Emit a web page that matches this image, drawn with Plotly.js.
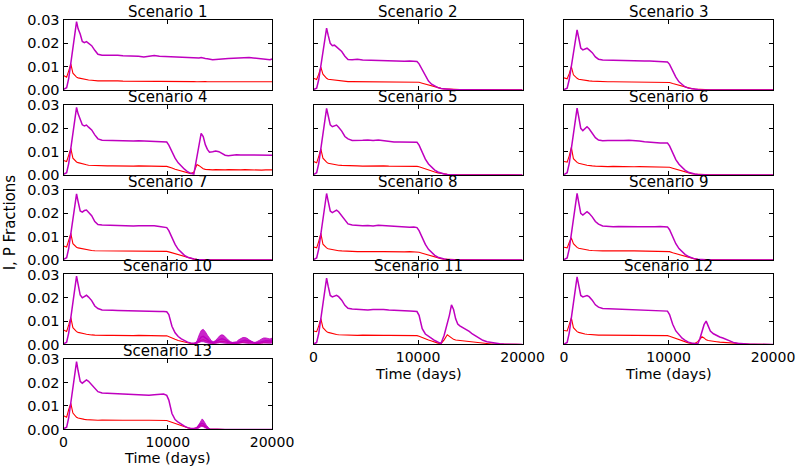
<!DOCTYPE html>
<html><head><meta charset="utf-8">
<script src="https://cdn.plot.ly/plotly-3.0.1.min.js"></script>
<style>html,body{margin:0;padding:0;background:#fff}#chart{width:798px;height:468px}</style>
</head><body><div id="chart"></div><script>
// shared time grid (days)
const days = [0,300,500,700,900,1100,1250,1400,1600,1800,
  2000,2200,2400,2700,3000,3300,3700,4200,4700,5200,
  5700,6200,6700,7200,7700,8200,8700,9200,9600,9900,
  10100,10400,10700,11000,11300,11600,11900,12200,12500,12800,
  13000,13200,13400,13600,13800,14000,14300,14600,14900,15200,
  15500,15800,16200,16600,17000,17400,17800,18200,18600,19000,
  19400,19800,20000];

// P fraction (magenta) and I fraction (red) per scenario
const p1 = [0.0003,0.0010,0.0050,0.0115,0.0180,0.0255,0.0293,0.0262,0.0240,0.0208,
  0.0203,0.0207,0.0201,0.0190,0.0170,0.0153,0.0149,0.0150,0.0148,0.0149,
  0.0147,0.0146,0.0148,0.0145,0.0141,0.0146,0.0148,0.0145,0.0144,0.0143,
  0.0142,0.0141,0.0140,0.0141,0.0139,0.0140,0.0139,0.0138,0.0137,0.0136,
  0.0137,0.0139,0.0136,0.0135,0.0134,0.0132,0.0130,0.0131,0.0133,0.0134,
  0.0134,0.0135,0.0136,0.0135,0.0138,0.0140,0.0139,0.0137,0.0136,0.0135,
  0.0133,0.0130,0.0133];
const i1 = [0.0062,0.0055,0.0082,0.0112,0.0072,0.0060,0.0055,0.0052,0.0050,0.0047,
  0.0048,0.0044,0.0043,0.0042,0.0040,0.0039,0.0039,0.0040,0.0038,0.0039,
  0.0038,0.0038,0.0039,0.0038,0.0037,0.0038,0.0038,0.0037,0.0038,0.0037,
  0.0037,0.0037,0.0036,0.0037,0.0036,0.0036,0.0037,0.0036,0.0036,0.0035,
  0.0036,0.0036,0.0035,0.0036,0.0035,0.0035,0.0035,0.0036,0.0035,0.0035,
  0.0036,0.0035,0.0035,0.0036,0.0035,0.0036,0.0035,0.0035,0.0035,0.0034,
  0.0035,0.0034,0.0035];
const p2 = [0.0002,0.0008,0.0045,0.0105,0.0165,0.0235,0.0265,0.0235,0.0200,0.0190,
  0.0192,0.0185,0.0176,0.0165,0.0145,0.0131,0.0130,0.0132,0.0129,0.0128,
  0.0127,0.0128,0.0126,0.0125,0.0125,0.0124,0.0123,0.0124,0.0122,0.0122,
  0.0112,0.0085,0.0060,0.0038,0.0025,0.0016,0.0010,0.0006,0.0004,0.0003,
  0.0002,0.0002,0.0001,0.0001,0.0001,0.0001,0.0001,0,0,0,
  0,0,0,0,0,0,0,0,0,0,
  0,0,0];
const i2 = [0.0050,0.0045,0.0068,0.0098,0.0068,0.0055,0.0050,0.0046,0.0045,0.0043,
  0.0042,0.0040,0.0039,0.0038,0.0037,0.0036,0.0036,0.0036,0.0035,0.0036,
  0.0035,0.0035,0.0036,0.0035,0.0035,0.0034,0.0035,0.0035,0.0034,0.0034,
  0.0033,0.0029,0.0025,0.0021,0.0017,0.0013,0.0010,0.0007,0.0005,0.0004,
  0.0003,0.0003,0.0003,0.0002,0.0003,0.0002,0.0002,0.0002,0.0001,0.0002,
  0.0001,0.0002,0.0001,0.0001,0.0002,0.0001,0.0001,0.0001,0.0001,0.0001,
  0.0001,0.0001,0.0001];
const p3 = [0.0002,0.0008,0.0045,0.0105,0.0165,0.0230,0.0258,0.0225,0.0180,0.0172,
  0.0176,0.0179,0.0172,0.0160,0.0142,0.0132,0.0129,0.0128,0.0127,0.0127,
  0.0126,0.0126,0.0125,0.0125,0.0124,0.0124,0.0123,0.0122,0.0121,0.0120,
  0.0110,0.0080,0.0055,0.0035,0.0022,0.0013,0.0008,0.0005,0.0003,0.0002,
  0.0001,0.0001,0.0001,0,0,0,0,0,0,0,
  0,0,0,0,0,0,0,0,0,0,
  0,0,0];
const i3 = [0.0052,0.0048,0.0070,0.0100,0.0065,0.0055,0.0050,0.0046,0.0044,0.0042,
  0.0043,0.0040,0.0039,0.0038,0.0037,0.0036,0.0036,0.0035,0.0035,0.0035,
  0.0035,0.0034,0.0035,0.0034,0.0034,0.0034,0.0034,0.0034,0.0033,0.0034,
  0.0032,0.0028,0.0024,0.0020,0.0016,0.0012,0.0009,0.0006,0.0004,0.0003,
  0.0002,0.0002,0.0002,0.0001,0.0002,0.0001,0.0001,0.0001,0.0001,0.0001,
  0.0001,0.0001,0.0001,0.0001,0.0001,0.0001,0.0001,0.0001,0.0001,0.0001,
  0.0001,0.0001,0.0001];
const p4 = [0.0003,0.0010,0.0050,0.0115,0.0180,0.0255,0.0290,0.0262,0.0240,0.0215,
  0.0210,0.0214,0.0205,0.0193,0.0172,0.0155,0.0149,0.0148,0.0149,0.0147,
  0.0148,0.0147,0.0146,0.0147,0.0146,0.0145,0.0145,0.0144,0.0143,0.0141,
  0.0128,0.0098,0.0072,0.0052,0.0037,0.0025,0.0014,0.0007,0.0004,0.0075,
  0.0125,0.0178,0.0165,0.0130,0.0110,0.0098,0.0100,0.0103,0.0100,0.0094,
  0.0085,0.0083,0.0086,0.0087,0.0086,0.0086,0.0087,0.0086,0.0085,0.0086,
  0.0086,0.0085,0.0085];
const i4 = [0.0062,0.0058,0.0085,0.0114,0.0072,0.0060,0.0056,0.0053,0.0050,0.0048,
  0.0046,0.0044,0.0042,0.0041,0.0040,0.0039,0.0040,0.0039,0.0039,0.0038,
  0.0039,0.0038,0.0038,0.0039,0.0038,0.0038,0.0037,0.0038,0.0037,0.0037,
  0.0035,0.0030,0.0025,0.0021,0.0017,0.0013,0.0009,0.0006,0.0012,0.0045,
  0.0040,0.0032,0.0027,0.0024,0.0023,0.0022,0.0022,0.0023,0.0022,0.0022,
  0.0022,0.0023,0.0022,0.0022,0.0022,0.0023,0.0022,0.0022,0.0022,0.0021,
  0.0022,0.0022,0.0022];
const p5 = [0.0002,0.0010,0.0050,0.0115,0.0180,0.0250,0.0286,0.0255,0.0215,0.0207,
  0.0212,0.0214,0.0205,0.0188,0.0165,0.0155,0.0148,0.0147,0.0149,0.0150,
  0.0148,0.0150,0.0146,0.0142,0.0141,0.0141,0.0140,0.0141,0.0140,0.0140,
  0.0128,0.0095,0.0068,0.0047,0.0032,0.0021,0.0013,0.0008,0.0004,0.0002,
  0.0001,0.0001,0.0001,0.0001,0,0,0,0,0,0,
  0,0,0,0,0,0,0,0,0,0,
  0,0,0];
const i5 = [0.0058,0.0052,0.0080,0.0112,0.0072,0.0060,0.0055,0.0050,0.0048,0.0046,
  0.0045,0.0043,0.0042,0.0041,0.0040,0.0039,0.0039,0.0039,0.0038,0.0039,
  0.0039,0.0038,0.0039,0.0038,0.0038,0.0039,0.0038,0.0038,0.0038,0.0037,
  0.0035,0.0030,0.0026,0.0021,0.0017,0.0013,0.0009,0.0006,0.0004,0.0003,
  0.0002,0.0002,0.0001,0.0002,0.0001,0.0001,0.0001,0.0001,0.0001,0.0001,
  0.0001,0.0001,0.0001,0,0.0001,0,0.0001,0,0,0.0001,
  0,0,0];
const p6 = [0.0002,0.0010,0.0050,0.0115,0.0180,0.0250,0.0287,0.0250,0.0200,0.0190,
  0.0200,0.0207,0.0198,0.0180,0.0160,0.0150,0.0147,0.0148,0.0147,0.0147,
  0.0148,0.0149,0.0149,0.0146,0.0143,0.0140,0.0138,0.0137,0.0137,0.0137,
  0.0125,0.0093,0.0066,0.0046,0.0031,0.0020,0.0012,0.0007,0.0004,0.0002,
  0.0001,0.0001,0.0001,0,0,0,0,0,0,0,
  0,0,0,0,0,0,0,0,0,0,
  0,0,0];
const i6 = [0.0058,0.0055,0.0082,0.0118,0.0070,0.0060,0.0054,0.0050,0.0047,0.0045,
  0.0044,0.0042,0.0040,0.0039,0.0038,0.0037,0.0037,0.0036,0.0037,0.0036,
  0.0036,0.0036,0.0035,0.0036,0.0036,0.0035,0.0035,0.0036,0.0035,0.0035,
  0.0033,0.0029,0.0025,0.0020,0.0016,0.0012,0.0009,0.0006,0.0004,0.0003,
  0.0002,0.0002,0.0001,0.0002,0.0001,0.0001,0.0001,0.0001,0.0001,0.0001,
  0.0001,0.0001,0.0001,0,0.0001,0,0.0001,0,0,0.0001,
  0,0,0];
const p7 = [0.0003,0.0010,0.0050,0.0112,0.0175,0.0245,0.0283,0.0250,0.0210,0.0205,
  0.0212,0.0214,0.0206,0.0190,0.0165,0.0152,0.0150,0.0149,0.0150,0.0148,
  0.0149,0.0147,0.0146,0.0147,0.0148,0.0146,0.0147,0.0144,0.0140,0.0139,
  0.0126,0.0094,0.0067,0.0046,0.0031,0.0020,0.0012,0.0007,0.0004,0.0002,
  0.0001,0.0001,0.0001,0.0001,0,0,0,0,0,0,
  0,0,0,0,0,0,0,0,0,0,
  0,0,0];
const i7 = [0.0060,0.0056,0.0084,0.0114,0.0070,0.0060,0.0055,0.0052,0.0050,0.0047,
  0.0046,0.0044,0.0042,0.0041,0.0040,0.0040,0.0039,0.0039,0.0040,0.0039,
  0.0039,0.0039,0.0038,0.0039,0.0038,0.0038,0.0039,0.0038,0.0038,0.0037,
  0.0035,0.0031,0.0026,0.0021,0.0017,0.0013,0.0009,0.0006,0.0004,0.0003,
  0.0002,0.0002,0.0001,0.0002,0.0001,0.0001,0.0001,0.0001,0.0001,0.0001,
  0.0001,0.0001,0.0001,0,0.0001,0,0.0001,0,0,0.0001,
  0,0,0];
const p8 = [0.0002,0.0009,0.0048,0.0112,0.0178,0.0248,0.0285,0.0252,0.0210,0.0203,
  0.0210,0.0214,0.0207,0.0190,0.0168,0.0155,0.0150,0.0147,0.0147,0.0148,
  0.0146,0.0149,0.0147,0.0145,0.0144,0.0143,0.0141,0.0140,0.0141,0.0139,
  0.0126,0.0094,0.0067,0.0046,0.0031,0.0020,0.0012,0.0007,0.0004,0.0002,
  0.0001,0.0001,0.0001,0,0,0,0,0,0,0,
  0,0,0,0,0,0,0,0,0,0,
  0,0,0];
const i8 = [0.0056,0.0052,0.0080,0.0114,0.0068,0.0058,0.0052,0.0048,0.0046,0.0044,
  0.0043,0.0041,0.0040,0.0039,0.0038,0.0037,0.0037,0.0036,0.0036,0.0037,
  0.0036,0.0036,0.0036,0.0035,0.0036,0.0036,0.0035,0.0036,0.0035,0.0035,
  0.0033,0.0029,0.0025,0.0020,0.0016,0.0012,0.0009,0.0006,0.0004,0.0003,
  0.0002,0.0002,0.0001,0.0002,0.0001,0.0001,0.0001,0.0001,0.0001,0.0001,
  0.0001,0.0001,0.0001,0,0.0001,0,0.0001,0,0,0.0001,
  0,0,0];
const p9 = [0.0002,0.0009,0.0048,0.0112,0.0178,0.0248,0.0286,0.0248,0.0200,0.0193,
  0.0202,0.0207,0.0200,0.0185,0.0165,0.0154,0.0146,0.0144,0.0143,0.0144,
  0.0143,0.0143,0.0142,0.0143,0.0143,0.0142,0.0143,0.0144,0.0143,0.0142,
  0.0130,0.0097,0.0070,0.0049,0.0034,0.0023,0.0015,0.0009,0.0005,0.0003,
  0.0002,0.0001,0.0001,0.0001,0.0001,0,0,0,0,0,
  0,0,0,0,0,0,0,0,0,0,
  0,0,0];
const i9 = [0.0055,0.0052,0.0075,0.0095,0.0070,0.0060,0.0054,0.0050,0.0048,0.0046,
  0.0045,0.0043,0.0042,0.0041,0.0040,0.0040,0.0039,0.0040,0.0039,0.0039,
  0.0040,0.0039,0.0039,0.0039,0.0038,0.0039,0.0038,0.0038,0.0038,0.0038,
  0.0036,0.0031,0.0027,0.0022,0.0018,0.0014,0.0010,0.0007,0.0005,0.0003,
  0.0002,0.0002,0.0001,0.0002,0.0001,0.0001,0.0001,0.0001,0.0001,0.0001,
  0.0001,0.0001,0.0001,0,0.0001,0,0.0001,0,0,0.0001,
  0,0,0];
const p10 = [0.0003,0.0010,0.0050,0.0115,0.0180,0.0255,0.0293,0.0258,0.0212,0.0200,
  0.0207,0.0211,0.0203,0.0188,0.0165,0.0154,0.0148,0.0146,0.0147,0.0146,
  0.0145,0.0146,0.0145,0.0144,0.0143,0.0143,0.0142,0.0141,0.0141,0.0140,
  0.0128,0.0078,0.0050,0.0034,0.0024,0.0016,0.0010,0.0006,0.0005,0.0008,
  0.0022,0.0032,0.0035,0.0030,0.0022,0.0014,0.0009,0.0012,0.0020,0.0024,
  0.0020,0.0012,0.0007,0.0008,0.0014,0.0018,0.0015,0.0009,0.0007,0.0012,
  0.0016,0.0015,0.0016];
const i10 = [0.0062,0.0056,0.0084,0.0115,0.0072,0.0060,0.0055,0.0052,0.0049,0.0047,
  0.0046,0.0044,0.0042,0.0041,0.0040,0.0039,0.0040,0.0039,0.0039,0.0038,
  0.0039,0.0038,0.0038,0.0039,0.0038,0.0038,0.0037,0.0038,0.0037,0.0037,
  0.0034,0.0028,0.0022,0.0017,0.0013,0.0009,0.0006,0.0004,0.0004,0.0006,
  0.0012,0.0018,0.0020,0.0017,0.0012,0.0008,0.0006,0.0008,0.0012,0.0014,
  0.0012,0.0008,0.0005,0.0006,0.0009,0.0011,0.0010,0.0007,0.0005,0.0008,
  0.0010,0.0010,0.0011];
const p11 = [0.0002,0.0009,0.0048,0.0112,0.0178,0.0248,0.0284,0.0250,0.0210,0.0204,
  0.0208,0.0211,0.0205,0.0190,0.0168,0.0155,0.0152,0.0150,0.0149,0.0148,
  0.0150,0.0151,0.0150,0.0148,0.0146,0.0145,0.0144,0.0143,0.0142,0.0141,
  0.0125,0.0068,0.0045,0.0034,0.0026,0.0017,0.0009,0.0004,0.0040,0.0090,
  0.0125,0.0170,0.0150,0.0110,0.0088,0.0080,0.0072,0.0065,0.0056,0.0045,
  0.0036,0.0027,0.0018,0.0012,0.0008,0.0005,0.0003,0.0002,0.0001,0.0001,
  0.0001,0,0];
const i11 = [0.0058,0.0055,0.0080,0.0111,0.0072,0.0060,0.0055,0.0052,0.0049,0.0047,
  0.0045,0.0043,0.0042,0.0041,0.0040,0.0040,0.0040,0.0039,0.0040,0.0039,
  0.0040,0.0039,0.0039,0.0039,0.0039,0.0038,0.0039,0.0038,0.0038,0.0038,
  0.0035,0.0029,0.0024,0.0019,0.0015,0.0010,0.0006,0.0004,0.0020,0.0042,
  0.0036,0.0027,0.0022,0.0019,0.0018,0.0016,0.0015,0.0013,0.0011,0.0009,
  0.0007,0.0005,0.0004,0.0003,0.0002,0.0002,0.0001,0.0001,0.0001,0.0001,
  0.0001,0.0001,0];
const p12 = [0.0002,0.0009,0.0050,0.0115,0.0180,0.0252,0.0290,0.0255,0.0210,0.0204,
  0.0208,0.0210,0.0205,0.0190,0.0170,0.0160,0.0154,0.0153,0.0152,0.0151,
  0.0150,0.0150,0.0149,0.0148,0.0148,0.0147,0.0146,0.0145,0.0144,0.0143,
  0.0128,0.0087,0.0058,0.0040,0.0027,0.0018,0.0010,0.0006,0.0003,0.0002,
  0.0025,0.0055,0.0085,0.0100,0.0075,0.0058,0.0046,0.0038,0.0032,0.0028,
  0.0022,0.0016,0.0009,0.0005,0.0003,0.0002,0.0001,0.0001,0,0,
  0,0,0];
const i12 = [0.0060,0.0058,0.0085,0.0114,0.0072,0.0061,0.0055,0.0052,0.0049,0.0047,
  0.0045,0.0044,0.0043,0.0042,0.0041,0.0040,0.0040,0.0040,0.0039,0.0040,
  0.0039,0.0040,0.0039,0.0039,0.0039,0.0038,0.0039,0.0038,0.0038,0.0038,
  0.0035,0.0030,0.0025,0.0020,0.0015,0.0011,0.0007,0.0004,0.0004,0.0012,
  0.0025,0.0033,0.0028,0.0020,0.0017,0.0015,0.0013,0.0012,0.0010,0.0009,
  0.0007,0.0005,0.0004,0.0003,0.0002,0.0002,0.0001,0.0001,0.0001,0.0001,
  0.0001,0,0];
const p13 = [0.0003,0.0010,0.0050,0.0113,0.0178,0.0250,0.0289,0.0250,0.0205,0.0197,
  0.0205,0.0211,0.0205,0.0190,0.0172,0.0161,0.0155,0.0154,0.0153,0.0150,
  0.0148,0.0147,0.0148,0.0147,0.0146,0.0146,0.0148,0.0150,0.0151,0.0145,
  0.0125,0.0068,0.0042,0.0031,0.0022,0.0014,0.0008,0.0004,0.0004,0.0008,
  0.0018,0.0026,0.0024,0.0014,0.0006,0.0002,0.0001,0.0001,0,0,
  0,0,0,0,0,0,0,0,0,0,
  0,0,0];
const i13 = [0.0058,0.0052,0.0085,0.0111,0.0070,0.0058,0.0052,0.0049,0.0046,0.0044,
  0.0043,0.0042,0.0041,0.0040,0.0039,0.0039,0.0040,0.0039,0.0039,0.0040,
  0.0039,0.0039,0.0040,0.0039,0.0039,0.0039,0.0039,0.0039,0.0039,0.0038,
  0.0035,0.0030,0.0025,0.0020,0.0016,0.0012,0.0007,0.0004,0.0003,0.0007,
  0.0013,0.0019,0.0016,0.0010,0.0005,0.0002,0.0001,0.0001,0,0,
  0,0,0,0,0,0,0,0,0,0,
  0,0,0];

// rapid-oscillation envelopes of P (Scenario 10 and 13)
const bandDays10 = [12600,12800,13000,13200,13400,13600,13800,14000,14200,14400,
  14600,14800,15000,15200,15400,15600,15800,16000,16200,16400,
  16600,16800,17000,17200,17400,17600,17800,18000,18200,18400,
  18600,18800,19000,19200,19400,19600,19800,20000];
const bandHi10 = [0.0006,0.0015,0.0040,0.0060,0.0065,0.0055,0.0040,0.0025,0.0015,0.0012,
  0.0018,0.0028,0.0038,0.0042,0.0038,0.0028,0.0018,0.0012,0.0009,0.0009,
  0.0012,0.0020,0.0027,0.0030,0.0030,0.0027,0.0020,0.0014,0.0010,0.0009,
  0.0012,0.0018,0.0024,0.0028,0.0028,0.0026,0.0024,0.0027];
const bandLo10 = [0.0002,0.0004,0.0008,0.0012,0.0012,0.0010,0.0007,0.0004,0.0003,0.0003,
  0.0004,0.0006,0.0008,0.0009,0.0008,0.0006,0.0004,0.0003,0.0002,0.0002,
  0.0003,0.0004,0.0006,0.0007,0.0007,0.0006,0.0004,0.0003,0.0002,0.0002,
  0.0003,0.0004,0.0005,0.0006,0.0006,0.0006,0.0005,0.0006];
const bandDays13 = [12700,12900,13100,13200,13300,13400,13500,13700,13900,14100];
const bandHi13 = [0.0006,0.0015,0.0030,0.0040,0.0045,0.0040,0.0032,0.0018,0.0008,0.0002];
const bandLo13 = [0.0002,0.0004,0.0010,0.0013,0.0014,0.0012,0.0008,0.0004,0.0002,0.0000];

const scenarioNames = ['Scenario 1','Scenario 2','Scenario 3','Scenario 4','Scenario 5','Scenario 6',
  'Scenario 7','Scenario 8','Scenario 9','Scenario 10','Scenario 11','Scenario 12','Scenario 13'];
const pSeries = [p1,p2,p3,p4,p5,p6,p7,p8,p9,p10,p11,p12,p13];
const iSeries = [i1,i2,i3,i4,i5,i6,i7,i8,i9,i10,i11,i12,i13];
const bands = {10:[bandDays10,bandHi10,bandLo10], 13:[bandDays13,bandHi13,bandLo13]};
const xTicks = [0,10000,20000];
const yTicks = [0,0.01,0.02,0.03];

// layout geometry
const colX = [[0.0796,0.3409],[0.3929,0.6548],[0.7068,0.9687]];
const rowY = [[0.8077,0.9573],[0.6261,0.7756],[0.4444,0.5940],[0.2639,0.4135],[0.0823,0.2329]];
const MAG = '#bf00bf', RED = '#ff0000';
const FONT = 'DejaVu Sans, Liberation Sans, sans-serif';

const traces = [];
const layout = {
  width: 798, height: 468, margin: {l:0,r:0,t:0,b:0},
  paper_bgcolor: '#fff', plot_bgcolor: '#fff', showlegend: false,
  font: {family: FONT, size: 14, color: '#000'},
  annotations: []
};
const nXLabel = [12,10,11]; // index of bottom scenario in each column
for (let k = 0; k < 13; k++) {
  const row = Math.floor(k/3), col = k % 3;
  const sfx = k === 0 ? '' : String(k+1);
  const xa = 'x'+sfx, ya = 'y'+sfx;
  traces.push({x: days, y: iSeries[k], xaxis: xa, yaxis: ya, type: 'scatter', mode: 'lines',
    line: {color: RED, width: 1.1}, hoverinfo: 'skip'});
  const b = bands[k+1];
  if (b) {
    traces.push({x: b[0].concat(b[0].slice().reverse()), y: b[1].concat(b[2].slice().reverse()),
      xaxis: xa, yaxis: ya, type: 'scatter', mode: 'lines', fill: 'toself',
      fillcolor: 'rgba(191,0,191,0.85)', line: {color: MAG, width: 0.8}, hoverinfo: 'skip'});
  }
  traces.push({x: days, y: pSeries[k], xaxis: xa, yaxis: ya, type: 'scatter', mode: 'lines',
    line: {color: MAG, width: 1.5}, hoverinfo: 'skip'});
  const showX = nXLabel[col] === k;
  layout['xaxis'+sfx] = {domain: colX[col], anchor: ya, range: [0,20000], tickvals: xTicks,
    ticktext: xTicks.map(String), showticklabels: showX, ticks: 'inside', ticklen: 4, tickwidth: 1,
    tickcolor: '#000', showline: true, linecolor: '#000', linewidth: 1, mirror: 'ticks',
    showgrid: false, zeroline: false, fixedrange: true, tickfont: {size: 14}};
  layout['yaxis'+sfx] = {domain: rowY[row], anchor: xa, range: [0,0.03], tickvals: yTicks,
    ticktext: yTicks.map(v => v.toFixed(2)), showticklabels: col === 0, ticks: 'inside', ticklen: 4,
    tickwidth: 1, tickcolor: '#000', showline: true, linecolor: '#000', linewidth: 1, mirror: 'ticks',
    showgrid: false, zeroline: false, fixedrange: true, tickfont: {size: 14.5}};
  layout.annotations.push({text: scenarioNames[k], xref: 'paper', yref: 'paper',
    x: (colX[col][0]+colX[col][1])/2, y: rowY[row][1], xanchor: 'center', yanchor: 'bottom',
    showarrow: false, font: {size: 15}, yshift: -3});
}
layout.annotations.push({text: 'I, P Fractions', xref: 'paper', yref: 'paper', x: 10/798, y: 0.525,
  textangle: -90, xanchor: 'center', yanchor: 'middle', showarrow: false, font: {size: 15}});
const xLabelY = [1-458/468, 1-373.5/468, 1-373.5/468];
for (let c = 0; c < 3; c++) {
  layout.annotations.push({text: 'Time (days)', xref: 'paper', yref: 'paper',
    x: (colX[c][0]+colX[c][1])/2, y: xLabelY[c], xanchor: 'center', yanchor: 'middle',
    showarrow: false, font: {size: 14.5}});
}
Plotly.newPlot('chart', traces, layout, {staticPlot: true, displayModeBar: false});
</script></body></html>
